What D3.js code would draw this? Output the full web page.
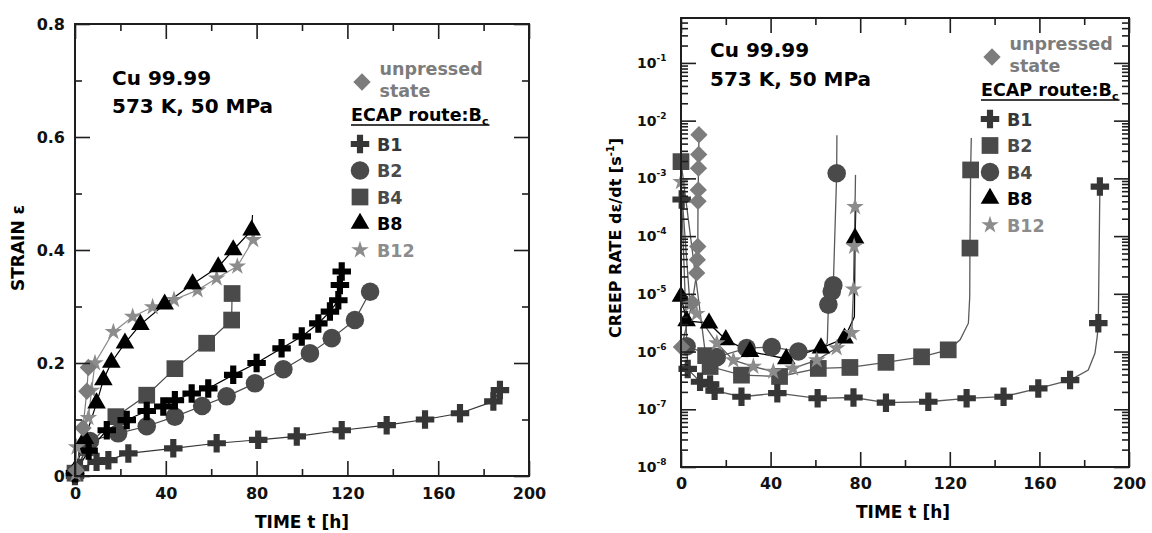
<!DOCTYPE html>
<html>
<head>
<meta charset="utf-8">
<script src="https://cdn.jsdelivr.net/npm/d3@7"></script>
<style>
  body { margin: 0; background: #fff; }
  svg { display: block; font-family: "DejaVu Sans", sans-serif; font-weight: bold; }
</style>
</head>
<body>
<svg id="fig" width="1152" height="533"></svg>
<script>
// ---------- Creep strain vs time (Cu 99.99, 573 K, 50 MPa) ----------
const strainTicks = [0, 0.2, 0.4, 0.6, 0.8];
const timeTicks = [0, 40, 80, 120, 160, 200];

const b1StrainHours = [0, 2.2, 9.5, 14.7, 23.5, 43.3, 62.4, 80.7, 97.7, 117.5, 137.3, 154.2, 169.6, 184.3, 187.2];
const b1Strain      = [0, 0.014, 0.025, 0.028, 0.04, 0.049, 0.058, 0.064, 0.07, 0.081, 0.09, 0.1, 0.111, 0.132, 0.152];

const crossBlackHours = [0, 6, 14, 22.8, 31.6, 38.9, 44, 51.4, 58.7, 69.7, 80, 91, 99.9, 107.2, 112.3, 116, 116.7, 117.5];
const crossBlackStrain = [0.005, 0.045, 0.081, 0.099, 0.115, 0.123, 0.134, 0.146, 0.155, 0.179, 0.2, 0.226, 0.247, 0.27, 0.291, 0.311, 0.338, 0.362];

const b2StrainHours = [0, 6.6, 19, 31.6, 44, 56, 66.8, 79.3, 91.8, 103.5, 113.1, 123.3, 130];
const b2Strain      = [0.005, 0.062, 0.0755, 0.088, 0.105, 0.124, 0.141, 0.164, 0.189, 0.217, 0.244, 0.276, 0.326];

const b4StrainHours = [0, 5, 18, 31.6, 44, 58, 69, 69.2];
const b4Strain      = [0.005, 0.05, 0.105, 0.143, 0.19, 0.235, 0.276, 0.323];

const b8StrainHours = [0, 4.4, 9.5, 12.5, 16, 22, 28.8, 39.5, 51.8, 63.1, 69.7, 77.8];
const b8Strain      = [0.01, 0.066, 0.129, 0.17, 0.201, 0.235, 0.268, 0.304, 0.34, 0.37, 0.4, 0.435];
const b8StrainEnd   = [78.2, 0.462];

const b12StrainHours = [0.3, 0.7, 5.9, 7.3, 8.8, 16.9, 25.4, 34.2, 43.6, 54, 62.4, 71.5, 78.5];
const b12Strain      = [0.004, 0.051, 0.103, 0.151, 0.2, 0.255, 0.282, 0.299, 0.312, 0.329, 0.35, 0.371, 0.418];

const unpStrainHours = [0.5, 3.5, 5.2, 5.9];
const unpStrain      = [0.01, 0.085, 0.15, 0.192];

// ---------- Creep rate vs time ----------
const rateDecades = [1e-8, 1e-7, 1e-6, 1e-5, 1e-4, 1e-3, 1e-2, 1e-1];

const b1RateHours = [0.3, 3, 8.5, 13, 15, 27, 43, 61, 77, 91.5, 110.4, 127.5, 144, 159.5, 173.7, 186.3, 187];
const b1Rate      = [4.3e-4, 5e-7, 3e-7, 2.7e-7, 2.1e-7, 1.65e-7, 1.9e-7, 1.55e-7, 1.6e-7, 1.3e-7, 1.35e-7, 1.55e-7, 1.65e-7, 2.3e-7, 3.2e-7, 3.1e-6, 7.2e-4];
const b1TraceHours = [181.8, 184.8, 185.8, 187.1];
const b1TraceRate  = [4.8e-7, 9.3e-7, 1.8e-6, 9.5e-4];

const b2RateHours = [0, 11, 13, 27, 44, 61.3, 75.4, 91.5, 107.4, 119.3, 129, 129.3];
const b2Rate      = [1.95e-3, 8.5e-7, 5.5e-7, 3.9e-7, 3.7e-7, 5.1e-7, 5.3e-7, 6.5e-7, 8.1e-7, 1.07e-6, 6.2e-5, 1.4e-3];
const b2TraceHours = [124.6, 128.3, 128.9, 129.6];
const b2TraceRate  = [1.6e-6, 3.1e-6, 8.9e-6, 5e-3];

const b4RateHours = [2.5, 16, 29.3, 40.5, 52.4, 65.8, 67.3, 68, 69.5];
const b4Rate      = [1.23e-6, 8e-7, 1.15e-6, 1.2e-6, 1e-6, 6.5e-6, 1.1e-5, 1.4e-5, 1.23e-3];
const b4TraceHours = [63, 65.3, 69.6];
const b4TraceRate  = [1.1e-6, 1.4e-6, 5.6e-3];

const b8RateHours = [0, 2.5, 12.5, 20, 30.8, 47, 62.5, 73, 77.7];
const b8Rate      = [9e-6, 3.4e-6, 3.1e-6, 1.6e-6, 1e-6, 7.5e-7, 1.15e-6, 1.7e-6, 9.2e-5];
const b8TraceHours = [77.4, 78];
const b8TraceRate  = [4e-6, 2.8e-4];

const b12RateHours = [0, 4, 7, 16, 23.4, 32.3, 41.2, 50, 60.6, 69.5, 76.2, 77, 77.3, 77.7];
const b12Rate      = [8.7e-4, 6.5e-6, 4.5e-6, 1.4e-6, 7.1e-7, 5.5e-7, 4.5e-7, 5.1e-7, 7.1e-7, 1.15e-6, 2.1e-6, 1.2e-5, 6.6e-5, 3.2e-4];
const b12TraceHours = [77.9];
const b12TraceRate  = [1.15e-3];

const unpRateHours = [0.2, 5, 7.0, 7.3, 7.5, 7.6, 7.7, 7.8, 7.9, 8.0];
const unpRate      = [1.2e-6, 7e-6, 2.3e-5, 3.9e-5, 6.6e-5, 4e-4, 6.3e-4, 1.5e-3, 2.6e-3, 5.7e-3];

// ---------- palette ----------
const colB1 = "#363636", colB2 = "#4a4a4a", colB4 = "#4a4a4a", colB8 = "#000000",
      colB12 = "#8c8c8c", colUnp = "#7c7c7c", colFrame = "#1e1e1e";

const svg = d3.select("#fig");

// ---------- marker shapes ----------
const shapes = {
  cross:    d3.symbol(d3.symbolCross, 190)(),
  circle:   d3.symbol(d3.symbolCircle, 270)(),
  square:   d3.symbol(d3.symbolSquare, 280)(),
  triangle: d3.symbol(d3.symbolTriangle, 150)(),
  star:     d3.symbol(d3.symbolStar, 95)(),
  diamond:  d3.symbol(d3.symbolSquare, 150)()
};
function drawMarkers(g, pts, shape, color) {
  g.append("g").selectAll("path").data(pts).join("path")
    .attr("d", shapes[shape])
    .attr("transform", d => `translate(${d[0]},${d[1]})` + (shape === "diamond" ? " rotate(45)" : ""))
    .attr("fill", color);
}
function zip(a, b) { return a.map((v, i) => [v, b[i]]); }

// ---------- axis frame helper ----------
function styleAxis(sel, size) {
  sel.attr("font-family", "DejaVu Sans").attr("font-weight", "bold")
     .attr("font-size", size).attr("color", colFrame);
  sel.select(".domain").remove();
  sel.selectAll(".tick line").attr("stroke-width", 1.6);
  sel.selectAll(".tick text").attr("fill", "#111");
}

function buildFrame(x, y, major, minor, yMajor, yMinor, fmtY, pads) {
  const [x0, x1] = x.range(), [y0, y1] = y.range();
  const g = svg.append("g");
  // bottom
  g.append("g").attr("transform", `translate(0,${y0})`)
    .call(d3.axisBottom(x).tickValues(major).tickSize(-15).tickPadding(pads.x).tickFormat(d3.format("d")))
    .call(s => styleAxis(s, 16));
  g.append("g").attr("transform", `translate(0,${y0})`)
    .call(d3.axisBottom(x).tickValues(minor).tickSize(-7).tickFormat(""))
    .call(s => styleAxis(s, 16));
  // top
  g.append("g").attr("transform", `translate(0,${y1})`)
    .call(d3.axisTop(x).tickValues(major).tickSize(-15).tickFormat(""))
    .call(s => styleAxis(s, 16));
  g.append("g").attr("transform", `translate(0,${y1})`)
    .call(d3.axisTop(x).tickValues(minor).tickSize(-7).tickFormat(""))
    .call(s => styleAxis(s, 16));
  // left
  const left = g.append("g").attr("transform", `translate(${x0},0)`)
    .call(d3.axisLeft(y).tickValues(yMajor).tickSize(-15).tickPadding(pads.y).tickFormat(fmtY ? fmtY : ""))
    .call(s => styleAxis(s, 16));
  g.append("g").attr("transform", `translate(${x0},0)`)
    .call(d3.axisLeft(y).tickValues(yMinor).tickSize(-7).tickFormat(""))
    .call(s => styleAxis(s, 16));
  // right
  g.append("g").attr("transform", `translate(${x1},0)`)
    .call(d3.axisRight(y).tickValues(yMajor).tickSize(-15).tickFormat(""))
    .call(s => styleAxis(s, 16));
  g.append("g").attr("transform", `translate(${x1},0)`)
    .call(d3.axisRight(y).tickValues(yMinor).tickSize(-7).tickFormat(""))
    .call(s => styleAxis(s, 16));
  // border
  g.append("rect").attr("x", x0).attr("y", y1).attr("width", x1 - x0).attr("height", y0 - y1)
    .attr("fill", "none").attr("stroke", colFrame).attr("stroke-width", 2);
  return left;
}

// ---------- legend helper ----------
function legend(ox, oy, items, shapesList) {
  const g = svg.append("g");
  // unpressed state
  g.append("path").attr("d", shapes.diamond)
    .attr("transform", `translate(${ox},${oy}) rotate(45)`).attr("fill", colUnp);
  g.append("text").attr("x", ox + 17.5).attr("y", oy - 7).attr("font-size", 17.5)
    .attr("fill", colUnp).text("unpressed");
  g.append("text").attr("x", ox + 17.5).attr("y", oy + 15).attr("font-size", 17.5)
    .attr("fill", colUnp).text("state");
  // heading
  const hx = ox - 11, hy = oy + 39;
  const head = g.append("text").attr("x", hx).attr("y", hy).attr("font-size", 17.5).attr("fill", "#000");
  head.append("tspan").text("ECAP route:B");
  head.append("tspan").attr("font-size", 11).attr("dy", 4).text("c");
  const bb = head.node().getBBox();
  g.append("line").attr("x1", hx).attr("x2", hx + bb.width + 1)
    .attr("y1", hy + 4).attr("y2", hy + 4).attr("stroke", "#000").attr("stroke-width", 1.6);
  // entries
  items.forEach((it, i) => {
    const cy = oy + 62 + i * 26.5;
    g.append("path").attr("d", shapes[shapesList[i]])
      .attr("transform", `translate(${ox - 2},${cy})`).attr("fill", it.color);
    g.append("text").attr("x", ox + 15).attr("y", cy + 6.5).attr("font-size", 17.5)
      .attr("fill", it.color).text(it.label);
  });
}

// ======================= LEFT PANEL: STRAIN =======================
const sx = d3.scaleLinear([0, 200], [75, 529]);
const sy = d3.scaleLinear([0, 0.8], [476, 24]);
const strainLine = d3.line().x(d => sx(d[0])).y(d => sy(d[1]));

const leftPlot = svg.append("g");
const strainSeries = [
  { h: b1StrainHours, v: b1Strain, shape: "cross", color: colB1 },
  { h: b2StrainHours, v: b2Strain, shape: "circle", color: colB2 },
  { h: b4StrainHours, v: b4Strain, shape: "square", color: colB4 },
  { h: crossBlackHours, v: crossBlackStrain, shape: "cross", color: "#000" },
  { h: b12StrainHours, v: b12Strain, shape: "star", color: colB12 },
  { h: b8StrainHours, v: b8Strain, shape: "triangle", color: colB8, end: b8StrainEnd },
  { h: unpStrainHours, v: unpStrain, shape: "diamond", color: colUnp }
];
strainSeries.forEach(s => {
  const pts = zip(s.h, s.v);
  const trace = s.end ? pts.concat([s.end]) : pts;
  leftPlot.append("path").attr("d", strainLine(trace)).attr("fill", "none")
    .attr("stroke", s.color).attr("stroke-width", 1.2);
});
strainSeries.forEach(s => {
  drawMarkers(leftPlot, zip(s.h, s.v).map(d => [sx(d[0]), sy(d[1])]), s.shape, s.color);
});

buildFrame(sx, sy, timeTicks, [20, 60, 100, 140, 180], strainTicks, [0.1, 0.3, 0.5, 0.7],
  d => d === 0 ? "0" : d3.format(".1f")(d), { x: 12, y: 10 });

svg.append("text").attr("x", 112).attr("y", 85).attr("font-size", 20).text("Cu 99.99");
svg.append("text").attr("x", 112).attr("y", 113).attr("font-size", 20).text("573 K, 50 MPa");
svg.append("text").attr("x", 302).attr("y", 528).attr("text-anchor", "middle")
  .attr("font-size", 17).text("TIME t [h]");
svg.append("text").attr("transform", "translate(24,248) rotate(-90)").attr("text-anchor", "middle")
  .attr("font-size", 17).text("STRAIN ε");

legend(362, 82,
  [{ label: "B1", color: colB1 }, { label: "B2", color: colB2 }, { label: "B4", color: colB4 },
   { label: "B8", color: colB8 }, { label: "B12", color: colB12 }],
  ["cross", "circle", "square", "triangle", "star"]);

// ======================= RIGHT PANEL: CREEP RATE =======================
const rx = d3.scaleLinear([0, 200], [681, 1129]);
const ry = d3.scaleLog([1e-8, 0.6], [467, 18]);
const rateLine = d3.line().x(d => rx(d[0])).y(d => ry(d[1]));

function trace(h, r, th = [], tr = []) {
  return zip(h, r).concat(zip(th, tr)).sort((a, b) => a[0] - b[0] || a[1] - b[1]);
}

const rightPlot = svg.append("g");
const rateSeries = [
  { h: b2RateHours, v: b2Rate, th: b2TraceHours, tr: b2TraceRate, shape: "square", color: colB2 },
  { h: b4RateHours, v: b4Rate, th: b4TraceHours, tr: b4TraceRate, shape: "circle", color: colB4 },
  { h: b1RateHours, v: b1Rate, th: b1TraceHours, tr: b1TraceRate, shape: "cross", color: colB1 },
  { h: b8RateHours, v: b8Rate, th: b8TraceHours, tr: b8TraceRate, shape: "triangle", color: colB8 },
  { h: b12RateHours, v: b12Rate, th: b12TraceHours, tr: b12TraceRate, shape: "star", color: colB12 },
  { h: unpRateHours, v: unpRate, th: [], tr: [], shape: "diamond", color: colUnp }
];
rateSeries.forEach(s => {
  rightPlot.append("path").attr("d", rateLine(trace(s.h, s.v, s.th, s.tr))).attr("fill", "none")
    .attr("stroke", s.color === colB8 ? "#000" : "#5a5a5a").attr("stroke-width", 1.3);
});
rateSeries.forEach(s => {
  drawMarkers(rightPlot, zip(s.h, s.v).map(d => [rx(d[0]), ry(d[1])]), s.shape, s.color);
});

const minorLog = [];
rateDecades.forEach(d => { for (let k = 2; k <= 9; k++) if (d * k < 0.6) minorLog.push(d * k); });

buildFrame(rx, ry, timeTicks, [20, 60, 100, 140, 180], rateDecades, minorLog,
  null, { x: 11, y: 10 });

// decade labels with superscript exponents
const decadeLabels = svg.append("g").attr("font-size", 14).attr("fill", "#111");
rateDecades.forEach(d => {
  const t = decadeLabels.append("text").attr("x", 637).attr("y", ry(d) + 5);
  t.append("tspan").text("10");
  t.append("tspan").attr("font-size", 9).attr("dy", -7).text("-" + Math.round(-Math.log10(d)));
});

svg.append("text").attr("x", 710).attr("y", 57).attr("font-size", 20).text("Cu 99.99");
svg.append("text").attr("x", 710).attr("y", 86).attr("font-size", 20).text("573 K, 50 MPa");
svg.append("text").attr("x", 903).attr("y", 518).attr("text-anchor", "middle")
  .attr("font-size", 17).text("TIME t [h]");
const yt = svg.append("text").attr("transform", "translate(621,238) rotate(-90)")
  .attr("text-anchor", "middle").attr("font-size", 16);
yt.append("tspan").text("CREEP RATE dε/dt [s");
yt.append("tspan").attr("font-size", 10).attr("dy", -7).text("-1");
yt.append("tspan").attr("dy", 7).text("]");

legend(992, 57,
  [{ label: "B1", color: colB1 }, { label: "B2", color: colB2 }, { label: "B4", color: colB4 },
   { label: "B8", color: colB8 }, { label: "B12", color: colB12 }],
  ["cross", "square", "circle", "triangle", "star"]);
</script>
</body>
</html>
